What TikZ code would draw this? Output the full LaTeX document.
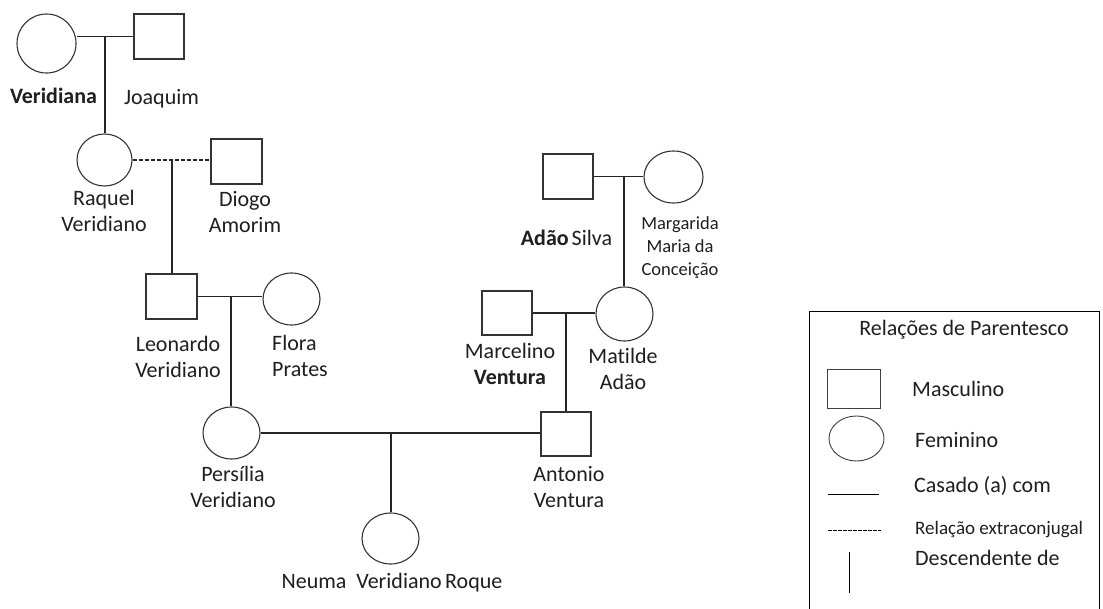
\documentclass[tikz,border=0pt]{standalone}
\usepackage{fontspec}
\setmainfont{Carlito}[Ligatures={NoCommon}]
\usetikzlibrary{shapes.geometric}
\begin{document}
\begin{tikzpicture}[x=1pt,y=-1pt,
  male/.style={draw=black!80, line width=1.1pt, rectangle, minimum width=50pt, minimum height=45pt, inner sep=0pt},
  female/.style={draw=black!80, line width=1.1pt, ellipse, minimum width=57pt, minimum height=52pt, inner sep=0pt},
  rel/.style={draw=black!85, line width=1.1pt},
  extra/.style={rel, dash pattern=on 4pt off 2pt},
  lbl/.style={font=\fontsize{22}{26}\selectfont, align=center, inner sep=0pt, text=black!88},
  small/.style={font=\fontsize{18.5}{23}\selectfont, align=center, inner sep=0pt, text=black!88},
  legline/.style={draw=black, line width=0.8pt}
]
\useasboundingbox (0,0) rectangle (1103,608);
\fill[white] (0,0) rectangle (1103,608);

% persons
\node[female, minimum width=59pt, minimum height=59pt] (veridiana) at (46.5,43.5) {};
\node[male] (joaquim) at (159,36.5) {};
\node[female, minimum width=55pt] (raquel) at (104.5,160) {};
\node[male, minimum width=51pt] (diogo) at (236.5,161.5) {};
\node[male, minimum width=51pt] (leonardo) at (171.5,296.5) {};
\node[female] (flora) at (291.5,299) {};
\node[female] (persilia) at (231.5,433) {};
\node[male, minimum height=44pt] (antonio) at (566,434) {};
\node[female, minimum height=51pt] (neuma) at (390.5,538.5) {};
\node[male] (adao) at (568,176.5) {};
\node[female, minimum width=59pt] (margarida) at (673.5,177) {};
\node[male, minimum height=44pt] (marcelino) at (507,313) {};
\node[female, minimum height=54pt] (matilde) at (624.5,314) {};

% unions
\coordinate (u1) at (105,36.5);
\coordinate (u2) at (172,160);
\coordinate (u3) at (231,297);
\coordinate (u4) at (391,433);
\coordinate (u5) at (624,177);
\coordinate (u6) at (566,313);

\draw[rel] (joaquim.west) -- (joaquim.west -| veridiana.east);
\draw[rel] (u1) -- (u1 |- raquel.north);
\draw[extra] (raquel.east) -- (raquel.east -| diogo.west);
\draw[rel] (u2) -- (u2 |- leonardo.north);
\draw[rel] (leonardo.east) -- (leonardo.east -| flora.west);
\draw[rel] (u3) -- (u3 |- persilia.north);
\draw[rel] (persilia.east) -- (persilia.east -| antonio.west);
\draw[rel] (u4) -- (u4 |- neuma.north);
\draw[rel] (adao.east) -- (adao.east -| margarida.west);
\draw[rel] (u5) -- (u5 |- matilde.north);
\draw[rel] (marcelino.east) -- (marcelino.east -| matilde.west);
\draw[rel] (u6) -- (u6 |- antonio.north);

% labels
\node[lbl, anchor=base] (tveridiana) at (53.5,103.5) {\bfseries Veridiana};
\node[lbl, anchor=base] (tjoaquim) at (161.5,104) {Joaquim};
\node[lbl] (traquel) at (104,213.3) {\strut Raquel\\\strut Veridiano};
\node[lbl] (tdiogo) at (245,214.3) {\strut Diogo\\\strut Amorim};
\node[lbl] (tleonardo) at (178,358.8) {\strut Leonardo\\\strut Veridiano};
\node[lbl, align=left, anchor=west] (tflora) at (272,357.8) {\strut Flora\\\strut Prates};
\node[lbl] (tpersilia) at (233,488.8) {\strut Persília\\\strut Veridiano};
\node[lbl] (tantonio) at (569,488.8) {\strut Antonio\\\strut Ventura};
\node[lbl, anchor=base] (tneuma) at (392,588) {Neuma\ \ Veridiano\hspace{3.5pt}Roque};
\node[lbl, anchor=base] (tadao) at (566.5,245) {\bfseries Adão\hspace{3pt}\mdseries Silva};
\node[small] (tmargarida) at (680,247.4) {\strut Margarida\\\strut Maria da\\\strut Conceição};
\node[lbl] (tmarcelino) at (510,365.8) {\strut Marcelino\\\strut\bfseries Ventura};
\node[lbl] (tmatilde) at (623,370.8) {\strut Matilde\\\strut Adão};

% legend
\coordinate (lb1) at (809,612);
\coordinate (lb2) at (809,311);
\coordinate (lb3) at (1099,311);
\coordinate (lb4) at (1099,612);
\draw[legline] (lb1) -- (lb2) -- (lb3) -- (lb4);
\node[lbl, anchor=base] (ltitle) at (964,335.5) {Relações de Parentesco};
\node[male, draw=black!75, line width=0.9pt, minimum width=53pt, minimum height=39pt] (lmale) at (853.5,388.5) {};
\node[lbl, anchor=base west] (tmale) at (912,396) {Masculino};
\node[female, draw=black!75, line width=0.9pt, minimum width=55pt, minimum height=45pt] (lfemale) at (856.5,438.5) {};
\node[lbl, anchor=base west] (tfemale) at (915,447) {Feminino};
\coordinate (lm1) at (828,494);
\coordinate (lm2) at (879,494);
\draw[legline] (lm1) -- (lm2);
\node[lbl, anchor=base west] (tmarried) at (914,492) {Casado (a) com};
\coordinate (le1) at (828,530);
\coordinate (le2) at (881,530);
\draw[legline, line width=1pt, dash pattern=on 3.5pt off 1.5pt] (le1) -- (le2);
\node[lbl, font=\fontsize{19}{23}\selectfont, anchor=base west] (textra) at (915,534) {Relação extraconjugal};
\coordinate (ld1) at (849,552);
\coordinate (ld2) at (849,593);
\draw[legline] (ld1) -- (ld2);
\node[lbl, anchor=base west] (tdesc) at (915,565) {Descendente de};
\end{tikzpicture}
\end{document}
